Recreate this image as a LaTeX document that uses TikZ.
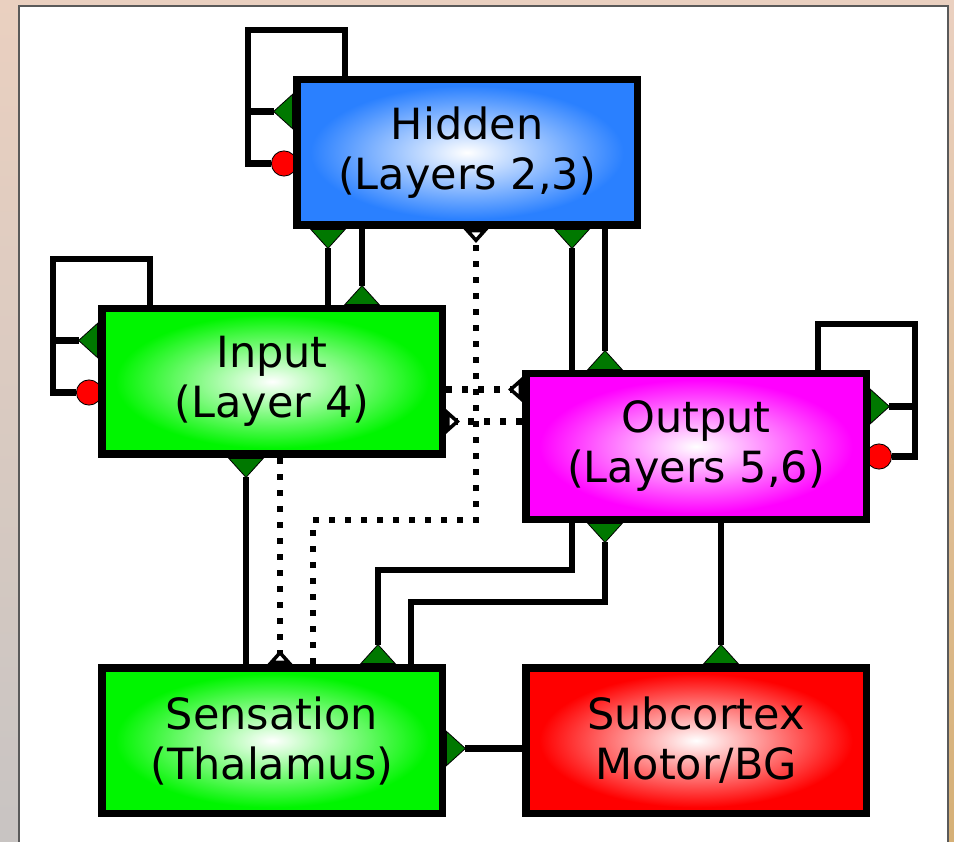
\documentclass[tikz,border=0pt]{standalone}
\usepackage{fontspec}
\setmainfont{DejaVu Sans}
\usetikzlibrary{arrows.meta, backgrounds, calc, positioning}

\definecolor{hidblue}{RGB}{42,128,255}
\definecolor{inpgreen}{RGB}{0,245,0}
\definecolor{outmag}{RGB}{255,0,255}
\definecolor{subred}{RGB}{255,0,0}
\definecolor{tri}{RGB}{0,120,0}
\definecolor{bgtop}{RGB}{234,208,192}
\definecolor{bgbot}{RGB}{200,196,194}
\definecolor{rim}{RGB}{90,90,90}
\definecolor{gold}{RGB}{214,176,118}

\pgfdeclareradialshading{glowblue}{\pgfpoint{0bp}{0bp}}%
  {color(0bp)=(white); color(23bp)=(hidblue); color(50bp)=(hidblue)}
\pgfdeclareradialshading{glowgreen}{\pgfpoint{0bp}{0bp}}%
  {color(0bp)=(white); color(23bp)=(inpgreen); color(50bp)=(inpgreen)}
\pgfdeclareradialshading{glowmag}{\pgfpoint{0bp}{0bp}}%
  {color(0bp)=(white); color(23bp)=(outmag); color(50bp)=(outmag)}
\pgfdeclareradialshading{glowred}{\pgfpoint{0bp}{0bp}}%
  {color(0bp)=(white); color(23bp)=(subred); color(50bp)=(subred)}

\begin{document}
\begin{tikzpicture}[
x=1pt, y=1pt,
   box/.style = {draw, shade, shading=#1,
                 line width=7.5pt, outer sep=3.75pt,
                 minimum width=340.5pt, minimum height=145.5pt,
                 font=\fontsize{43}{50}\selectfont, align=center},
   exc/.style = {line width=6.5pt,
                 -{Triangle[reversed, length=20pt, width=36pt,
                            line width=0.8pt, fill=tri]}},
   inh/.style = {line width=6.5pt, shorten >=-4pt,
                 -{Circle[length=26pt, line width=0.8pt, fill=subred]}},
  weak/.style = {line width=6.5pt, dash pattern=on 6pt off 10pt,
                 -{Triangle[open, reversed, length=14pt, width=24pt,
                            line width=4pt 0 0]}}
                        ]
\useasboundingbox (0,0) rectangle (954,-842);
    % blocks (boxes)
\node (sen) [box=glowgreen] at (272,-740.5)   {Sensation\\(Thalamus)};
\node (sub) [box=glowred, right=76pt of sen]  {Subcortex\\Motor/BG};
\node (inp) [box=glowgreen, above=206pt of sen] {Input\\(Layer 4)};
\node (out) [box=glowmag, above=141pt of sub]   {Output\\(Layers 5,6)};
\node (hid) [box=glowblue, above=76pt of inp, xshift=195pt] {Hidden\\(Layers 2,3)};

\begin{scope}[on background layer]
    % frame
\shade[top color=bgtop, bottom color=bgbot] (0,0) rectangle (954,-842);
\shade[top color=bgtop, bottom color=gold] (949,-6) rectangle (954,-842);
\draw[rim, line width=2pt, fill=white] (19,-6) rectangle (948,-860);
    % hidden <-> input, hidden <-> output
\draw[exc] ([xshift=56pt]inp.north) -- ([xshift=56pt]inp.north |- hid.south);
\draw[exc] ([xshift=90pt]inp.north |- hid.south) -- ([xshift=90pt]inp.north);
\draw[exc] ([xshift=50pt]out.north west) -- ([xshift=50pt]out.north west |- hid.south);
\draw[exc] ([xshift=83pt]out.north west |- hid.south) -- ([xshift=83pt]out.north west);
    % thalamus, subcortex
\draw[exc] ([xshift=-26pt]sen.north) -- ([xshift=-26pt]inp.south);
\draw[exc] ([xshift=50pt]out.south west) -- ++(0,-47pt) -| ([xshift=106pt]sen.north);
\draw[exc] ([xshift=139pt]sen.north) -- ++(0,62pt) -| ([xshift=83pt]out.south west);
\draw[exc] ([xshift=25pt]out.south) -- ([xshift=25pt]sub.north);
\draw[exc] ([yshift=-8pt]sub.west) -- ([yshift=-8pt]sen.east);
    % dotted links
\draw[weak] ([xshift=8pt]inp.south) -- ([xshift=8pt]sen.north);
\draw[weak] ([xshift=41pt]sen.north) -- ++(0,144pt) -| ([xshift=9pt]hid.south);
\draw[weak] ([yshift=-8pt]inp.east) -- ([yshift=-8pt]inp.east -| out.west);
\draw[weak] ([yshift=-40pt]inp.east -| out.west) -- ([yshift=-40pt]inp.east);
    % self loops
\draw[exc] ([xshift=52pt]hid.north west) -- ++(0,46pt) -- ++(-97pt,0) |- ([yshift=41pt]hid.west);
\draw[inh] ([xshift=52pt]hid.north west) -- ++(0,46pt) -- ++(-97pt,0) |- ([yshift=-11pt]hid.west);
\draw[exc] ([xshift=52pt]inp.north west) -- ++(0,46pt) -- ++(-97pt,0) |- ([yshift=41pt]inp.west);
\draw[inh] ([xshift=52pt]inp.north west) -- ++(0,46pt) -- ++(-97pt,0) |- ([yshift=-11pt]inp.west);
\draw[exc] ([xshift=-52pt]out.north east) -- ++(0,46pt) -- ++(97pt,0) |- ([yshift=40pt]out.east);
\draw[inh] ([xshift=-52pt]out.north east) -- ++(0,46pt) -- ++(97pt,0) |- ([yshift=-10pt]out.east);
\end{scope}
\end{tikzpicture}
\end{document}
